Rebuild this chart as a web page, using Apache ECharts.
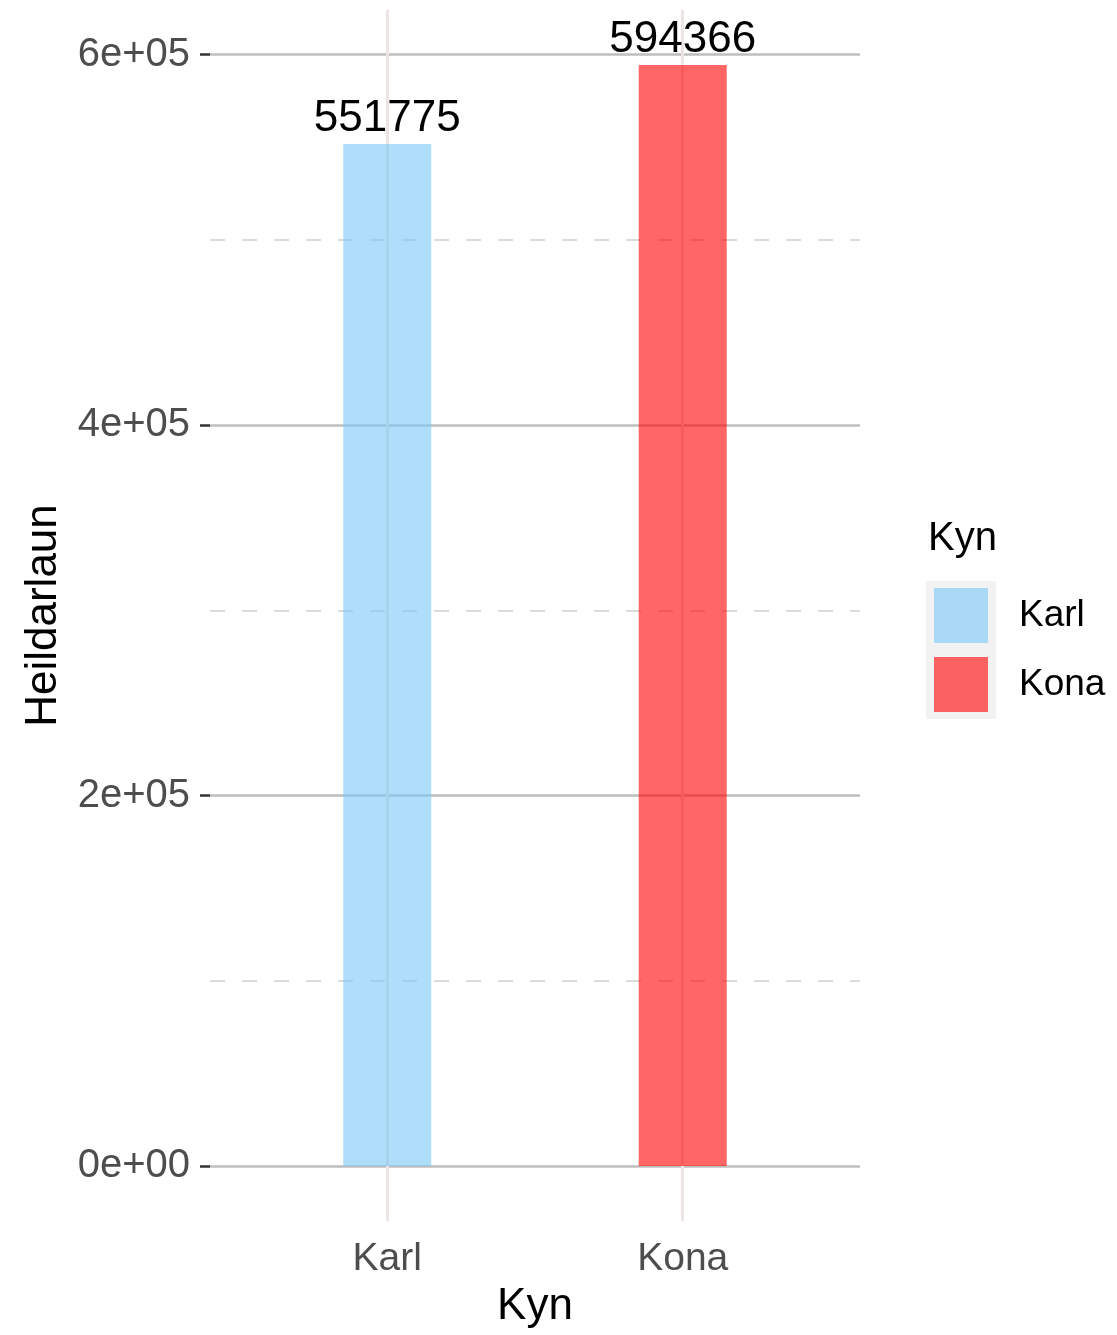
<!DOCTYPE html>
<html>
<head>
<meta charset="utf-8">
<script src="https://cdn.jsdelivr.net/npm/echarts@6/dist/echarts.min.js"></script>
<style>
html,body{margin:0;padding:0;background:#fff;}
#chart{width:1117px;height:1335px;}
</style>
</head>
<body>
<div id="chart"></div>
<script>
const categories = ['Karl', 'Kona'];
const values = [551775, 594366];
const seriesColors = ['rgba(120,200,245,0.6)', 'rgba(255,0,0,0.6)'];
const majorTicks = [0, 200000, 400000, 600000];
const minorTicks = [100000, 300000, 500000];

const FONT = 'Liberation Sans, Arial, sans-serif';
const maxV = Math.max(...values);
const yMin = -0.05 * maxV;
const yMax = 1.05 * maxV;

function sci(v) {
  if (v === 0) return '0e+00';
  const e = Math.floor(Math.log10(Math.abs(v)));
  const m = Math.round(v / Math.pow(10, e));
  return m + 'e' + (e >= 0 ? '+' : '-') + String(Math.abs(e)).padStart(2, '0');
}

const gridLines = [];
majorTicks.forEach(v => gridLines.push({ yAxis: v, lineStyle: { color: '#BEBEBE', width: 2.6, type: 'solid' } }));
minorTicks.forEach(v => gridLines.push({ yAxis: v, lineStyle: { color: '#D0D0D0', width: 1.6, type: [15, 17] } }));
categories.forEach((c, i) => gridLines.push({ xAxis: i + 1, lineStyle: { color: '#EEE4E4', width: 3, type: 'solid' } }));

const series = categories.map((c, i) => ({
  name: c,
  type: 'bar',
  stack: 'all',
  barWidth: 88,
  z: 2,
  data: [[i + 1, values[i]]],
  itemStyle: { color: seriesColors[i] },
  label: {
    show: true, position: 'top', distance: 3,
    color: '#000', fontSize: 44, fontFamily: FONT,
    formatter: p => String(p.value[1])
  },
  emphasis: { disabled: true },
  markLine: i === 0 ? {
    z: 1, silent: true, symbol: 'none',
    label: { show: false },
    emphasis: { disabled: true },
    animation: false,
    data: gridLines
  } : undefined
}));

const chart = echarts.init(document.getElementById('chart'), null, { renderer: 'canvas' });
chart.setOption({
  animation: false,
  backgroundColor: '#fff',
  grid: { left: 210, right: 257, top: 10, bottom: 114, containLabel: false },
  title: {
    text: 'Kyn', left: 928, top: 519, padding: 0,
    textStyle: { fontSize: 40, fontWeight: 'normal', color: '#000', fontFamily: FONT }
  },
  legend: {
    orient: 'vertical', left: 934, top: 588, padding: 0,
    itemWidth: 54, itemHeight: 55, itemGap: 14,
    icon: 'rect',
    data: categories,
    textStyle: { fontSize: 37, color: '#000', fontFamily: FONT, padding: [6, 0, 0, 26] },
    selectedMode: false
  },
  graphic: [{
    type: 'rect', left: 926, top: 581, z: -1,
    shape: { width: 70, height: 138 },
    style: { fill: '#F2F2F2' }
  }],
  xAxis: {
    type: 'value', min: 0.4, max: 2.6,
    name: 'Kyn', nameLocation: 'middle', nameGap: 64,
    nameTextStyle: { fontSize: 44, color: '#000', fontFamily: FONT },
    axisLine: { show: false },
    splitLine: { show: false },
    axisTick: { show: true, customValues: [1, 2], length: 9, lineStyle: { color: '#333', width: 2.5 } },
    axisLabel: {
      customValues: [1, 2], margin: 19,
      fontSize: 39, color: '#4D4D4D', fontFamily: FONT,
      formatter: v => categories[Math.round(v) - 1] || ''
    }
  },
  yAxis: {
    type: 'value', min: yMin, max: yMax,
    name: 'Heildarlaun', nameLocation: 'middle', nameGap: 144, nameRotate: 90,
    nameTextStyle: { fontSize: 44, color: '#000', fontFamily: FONT },
    axisLine: { show: false },
    splitLine: { show: false },
    axisTick: { show: true, customValues: majorTicks, length: 10, lineStyle: { color: '#333', width: 2.5 } },
    axisLabel: {
      customValues: majorTicks, margin: 20,
      fontSize: 40, color: '#4D4D4D', fontFamily: FONT,
      formatter: v => sci(v)
    }
  },
  series: series
});
</script>
</body>
</html>
